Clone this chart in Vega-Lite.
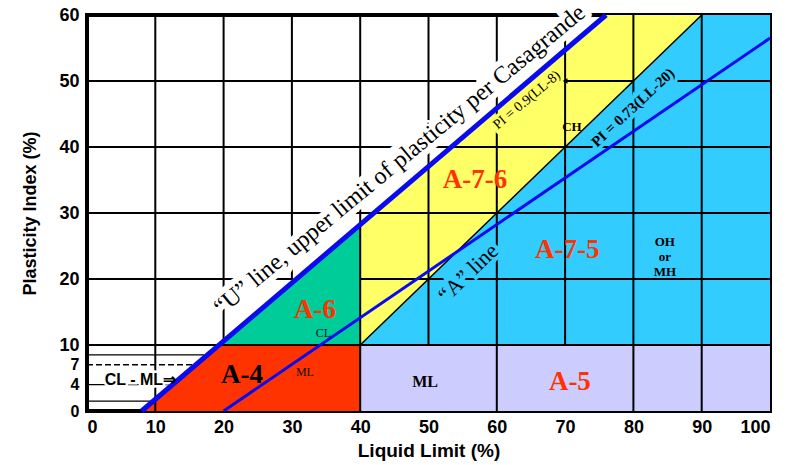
{
  "$schema": "https://vega.github.io/schema/vega-lite/v6.json",
  "width": 683,
  "height": 396,
  "autosize": {"type": "none"},
  "padding": {"left": 87, "top": 15, "right": 24, "bottom": 54},
  "background": "white",
  "config": {
    "view": {"stroke": "black", "strokeWidth": 4},
    "axis": {"grid": false, "domain": false, "ticks": false, "labelFont": "Liberation Sans", "labelFontWeight": "bold", "labelColor": "black", "titleFont": "Liberation Sans", "titleFontWeight": "bold", "titleColor": "black"}
  },
  "datasets": {
    "regions": [
      {"region": "A-4", "LL": 8, "PI": 0, "PI2": 0},
      {"region": "A-4", "LL": 19.3, "PI": 0, "PI2": 10},
      {"region": "A-4", "LL": 40, "PI": 0, "PI2": 10},
      {"region": "A-6", "LL": 19.3, "PI": 10, "PI2": 10},
      {"region": "A-6", "LL": 40, "PI": 10, "PI2": 28.2},
      {"region": "A-7-6", "LL": 40, "PI": 10, "PI2": 28.2},
      {"region": "A-7-6", "LL": 76, "PI": 46, "PI2": 60},
      {"region": "A-7-6", "LL": 90, "PI": 60, "PI2": 60},
      {"region": "A-7-5", "LL": 40, "PI": 10, "PI2": 10},
      {"region": "A-7-5", "LL": 90, "PI": 10, "PI2": 60},
      {"region": "A-7-5", "LL": 100, "PI": 10, "PI2": 60},
      {"region": "A-5", "LL": 40, "PI": 0, "PI2": 10},
      {"region": "A-5", "LL": 100, "PI": 0, "PI2": 10}
    ],
    "grid": [
      {"LL": 10, "LL2": 10, "PI": 0, "PI2": 60},
      {"LL": 20, "LL2": 20, "PI": 10.8, "PI2": 60},
      {"LL": 30, "LL2": 30, "PI": 19.8, "PI2": 60},
      {"LL": 40, "LL2": 40, "PI": 0, "PI2": 60},
      {"LL": 50, "LL2": 50, "PI": 10, "PI2": 60},
      {"LL": 60, "LL2": 60, "PI": 0, "PI2": 60},
      {"LL": 70, "LL2": 70, "PI": 10, "PI2": 60},
      {"LL": 80, "LL2": 80, "PI": 0, "PI2": 60},
      {"LL": 90, "LL2": 90, "PI": 0, "PI2": 60},
      {"LL": 0, "LL2": 100, "PI": 10, "PI2": 10},
      {"LL": 0, "LL2": 30.2, "PI": 20, "PI2": 20},
      {"LL": 40, "LL2": 100, "PI": 20, "PI2": 20},
      {"LL": 0, "LL2": 100, "PI": 30, "PI2": 30},
      {"LL": 0, "LL2": 100, "PI": 40, "PI2": 40},
      {"LL": 0, "LL2": 57, "PI": 50, "PI2": 50},
      {"LL": 70, "LL2": 80, "PI": 50, "PI2": 50},
      {"LL": 86, "LL2": 100, "PI": 50, "PI2": 50}
    ],
    "hatch": [
      {"LL": 0, "LL2": 17.2, "PI": 8.5},
      {"LL": 0, "LL2": 12.4, "PI": 4},
      {"LL": 0, "LL2": 9.7, "PI": 1.5}
    ],
    "hatchDashed": [
      {"LL": 0, "LL2": 15.8, "PI": 7}
    ],
    "boundary": [{"LL": 40, "PI": 10}, {"LL": 90, "PI": 60}],
    "uline": [{"LL": 8, "PI": 0}, {"LL": 76, "PI": 60}],
    "aline": [{"LL": 20, "PI": 0}, {"LL": 100, "PI": 56.5}],
    "arrow": [{"LL": 70, "PI": 50}],
    "redBig": [
      {"LL": 33.4, "PI": 15.3, "t": "A-6"},
      {"LL": 56.8, "PI": 35, "t": "A-7-6"},
      {"LL": 70.3, "PI": 24.4, "t": "A-7-5"},
      {"LL": 70.7, "PI": 4.4, "t": "A-5"}
    ],
    "blackBig": [{"LL": 22.7, "PI": 5.5, "t": "A-4"}],
    "smallReg": [
      {"LL": 31.9, "PI": 5.9, "t": "ML"},
      {"LL": 34.6, "PI": 11.8, "t": "CL"}
    ],
    "smallBold": [
      {"LL": 71, "PI": 43, "t": "CH"},
      {"LL": 84.6, "PI": 25.6, "t": "OH"},
      {"LL": 84.6, "PI": 23.3, "t": "or"},
      {"LL": 84.6, "PI": 21.0, "t": "MH"}
    ],
    "mlBold": [{"LL": 49.5, "PI": 4.4, "t": "ML"}],
    "uText": [{"LL": 45.8, "PI": 38.0, "t": "\u201cU\u201d line, upper limit of plasticity per Casagrande"}],
    "aText": [{"LL": 55.8, "PI": 20.9, "t": "\u201cA\u201d line"}],
    "pi073": [{"LL": 79.9, "PI": 46, "t": "PI = 0.73(LL-20)"}],
    "pi09": [{"LL": 64.4, "PI": 47.1, "t": "PI = 0.9(LL-8)"}],
    "clml": [{"LL": 2.6, "PI": 4.7, "t": "CL - ML\u21d2"}]
  },
  "layer": [
    {
      "data": {"name": "regions"},
      "mark": {"type": "area", "opacity": 1},
      "encoding": {
        "x": {"field": "LL", "type": "quantitative", "scale": {"domain": [0, 100], "nice": false, "zero": false},
              "axis": {"values": [0, 10, 20, 30, 40, 50, 60, 70, 80, 90, 100], "title": "Liquid Limit (%)", "labelFontSize": 18, "titleFontSize": 19, "labelPadding": 7, "titlePadding": 5}},
        "y": {"field": "PI", "type": "quantitative", "stack": null, "scale": {"domain": [0, 60], "nice": false, "zero": false},
              "axis": {"values": [0, 4, 7, 10, 20, 30, 40, 50, 60], "title": "Plasticity Index (%)", "labelFontSize": {"condition": {"test": "datum.value < 10", "value": 16}, "value": 18}, "titleFontSize": 18, "labelPadding": 8, "titlePadding": 19}},
        "y2": {"field": "PI2"},
        "color": {"field": "region", "type": "nominal", "legend": null,
                  "scale": {"domain": ["A-4", "A-6", "A-7-6", "A-7-5", "A-5"], "range": ["#FF3300", "#00CC99", "#FFFF66", "#33CCFF", "#CCCCFF"]}}
      }
    },
    {
      "data": {"name": "grid"},
      "mark": {"type": "rule", "color": "black", "strokeWidth": 2},
      "encoding": {
        "x": {"field": "LL", "type": "quantitative"},
        "x2": {"field": "LL2"},
        "y": {"field": "PI", "type": "quantitative"},
        "y2": {"field": "PI2"}
      }
    },
    {
      "data": {"name": "hatch"},
      "mark": {"type": "rule", "color": "black", "strokeWidth": 1.3},
      "encoding": {
        "x": {"field": "LL", "type": "quantitative"},
        "x2": {"field": "LL2"},
        "y": {"field": "PI", "type": "quantitative"}
      }
    },
    {
      "data": {"name": "hatchDashed"},
      "mark": {"type": "rule", "color": "black", "strokeWidth": 1.5, "strokeDash": [6, 3]},
      "encoding": {
        "x": {"field": "LL", "type": "quantitative"},
        "x2": {"field": "LL2"},
        "y": {"field": "PI", "type": "quantitative"}
      }
    },
    {
      "data": {"name": "boundary"},
      "mark": {"type": "line", "color": "black", "strokeWidth": 1.5},
      "encoding": {"x": {"field": "LL", "type": "quantitative"}, "y": {"field": "PI", "type": "quantitative"}}
    },
    {
      "data": {"name": "aText"},
      "mark": {"type": "text", "font": "Liberation Serif", "fontSize": 22, "fill": "#33CCFF", "stroke": "#33CCFF", "strokeWidth": 8, "align": "center", "baseline": "middle", "angle": 316},
      "encoding": {"x": {"field": "LL", "type": "quantitative"}, "y": {"field": "PI", "type": "quantitative"}, "text": {"field": "t"}}
    },
    {
      "data": {"name": "pi073"},
      "mark": {"type": "text", "font": "Liberation Serif", "fontWeight": "bold", "fontSize": 15, "fill": "#33CCFF", "stroke": "#33CCFF", "strokeWidth": 7, "align": "center", "baseline": "middle", "angle": 317},
      "encoding": {"x": {"field": "LL", "type": "quantitative"}, "y": {"field": "PI", "type": "quantitative"}, "text": {"field": "t"}}
    },
    {
      "data": {"name": "pi09"},
      "mark": {"type": "text", "font": "Liberation Serif", "fontSize": 14, "fill": "#FFFF66", "stroke": "#FFFF66", "strokeWidth": 7, "align": "center", "baseline": "middle", "angle": 320},
      "encoding": {"x": {"field": "LL", "type": "quantitative"}, "y": {"field": "PI", "type": "quantitative"}, "text": {"field": "t"}}
    },
    {
      "data": {"name": "uText"},
      "mark": {"type": "text", "font": "Liberation Serif", "fontSize": 24, "fill": "white", "stroke": "white", "strokeWidth": 12, "align": "center", "baseline": "middle", "angle": 320.5},
      "encoding": {"x": {"field": "LL", "type": "quantitative"}, "y": {"field": "PI", "type": "quantitative"}, "text": {"field": "t"}}
    },
    {
      "data": {"name": "clml"},
      "mark": {"type": "text", "font": "Liberation Sans", "fontWeight": "bold", "fontSize": 16, "fill": "white", "stroke": "white", "strokeWidth": 5, "align": "left", "baseline": "middle"},
      "encoding": {"x": {"field": "LL", "type": "quantitative"}, "y": {"field": "PI", "type": "quantitative"}, "text": {"field": "t"}}
    },
    {
      "data": {"name": "uline"},
      "mark": {"type": "line", "color": "#0A0AF0", "strokeWidth": 5},
      "encoding": {"x": {"field": "LL", "type": "quantitative"}, "y": {"field": "PI", "type": "quantitative"}}
    },
    {
      "data": {"name": "aline"},
      "mark": {"type": "line", "color": "#0A0AF0", "strokeWidth": 3},
      "encoding": {"x": {"field": "LL", "type": "quantitative"}, "y": {"field": "PI", "type": "quantitative"}}
    },
    {
      "data": {"name": "arrow"},
      "mark": {"type": "point", "shape": "triangle-left", "filled": true, "color": "black", "size": 30, "opacity": 1},
      "encoding": {"x": {"field": "LL", "type": "quantitative"}, "y": {"field": "PI", "type": "quantitative"}}
    },
    {
      "data": {"name": "redBig"},
      "mark": {"type": "text", "font": "Liberation Serif", "fontWeight": "bold", "fontSize": 27, "color": "#FF3300", "align": "center", "baseline": "middle"},
      "encoding": {"x": {"field": "LL", "type": "quantitative"}, "y": {"field": "PI", "type": "quantitative"}, "text": {"field": "t"}}
    },
    {
      "data": {"name": "blackBig"},
      "mark": {"type": "text", "font": "Liberation Serif", "fontWeight": "bold", "fontSize": 27, "color": "black", "align": "center", "baseline": "middle"},
      "encoding": {"x": {"field": "LL", "type": "quantitative"}, "y": {"field": "PI", "type": "quantitative"}, "text": {"field": "t"}}
    },
    {
      "data": {"name": "smallReg"},
      "mark": {"type": "text", "font": "Liberation Serif", "fontSize": 12, "color": "#111", "align": "center", "baseline": "middle"},
      "encoding": {"x": {"field": "LL", "type": "quantitative"}, "y": {"field": "PI", "type": "quantitative"}, "text": {"field": "t"}}
    },
    {
      "data": {"name": "smallBold"},
      "mark": {"type": "text", "font": "Liberation Serif", "fontWeight": "bold", "fontSize": 13, "color": "black", "align": "center", "baseline": "middle"},
      "encoding": {"x": {"field": "LL", "type": "quantitative"}, "y": {"field": "PI", "type": "quantitative"}, "text": {"field": "t"}}
    },
    {
      "data": {"name": "mlBold"},
      "mark": {"type": "text", "font": "Liberation Serif", "fontWeight": "bold", "fontSize": 16, "color": "black", "align": "center", "baseline": "middle"},
      "encoding": {"x": {"field": "LL", "type": "quantitative"}, "y": {"field": "PI", "type": "quantitative"}, "text": {"field": "t"}}
    },
    {
      "data": {"name": "uText"},
      "mark": {"type": "text", "font": "Liberation Serif", "fontSize": 24, "color": "black", "align": "center", "baseline": "middle", "angle": 320.5},
      "encoding": {"x": {"field": "LL", "type": "quantitative"}, "y": {"field": "PI", "type": "quantitative"}, "text": {"field": "t"}}
    },
    {
      "data": {"name": "aText"},
      "mark": {"type": "text", "font": "Liberation Serif", "fontSize": 22, "color": "black", "align": "center", "baseline": "middle", "angle": 316},
      "encoding": {"x": {"field": "LL", "type": "quantitative"}, "y": {"field": "PI", "type": "quantitative"}, "text": {"field": "t"}}
    },
    {
      "data": {"name": "pi073"},
      "mark": {"type": "text", "font": "Liberation Serif", "fontWeight": "bold", "fontSize": 15, "color": "black", "align": "center", "baseline": "middle", "angle": 317},
      "encoding": {"x": {"field": "LL", "type": "quantitative"}, "y": {"field": "PI", "type": "quantitative"}, "text": {"field": "t"}}
    },
    {
      "data": {"name": "pi09"},
      "mark": {"type": "text", "font": "Liberation Serif", "fontSize": 14, "color": "black", "align": "center", "baseline": "middle", "angle": 320},
      "encoding": {"x": {"field": "LL", "type": "quantitative"}, "y": {"field": "PI", "type": "quantitative"}, "text": {"field": "t"}}
    },
    {
      "data": {"name": "clml"},
      "mark": {"type": "text", "font": "Liberation Sans", "fontWeight": "bold", "fontSize": 16, "color": "black", "align": "left", "baseline": "middle"},
      "encoding": {"x": {"field": "LL", "type": "quantitative"}, "y": {"field": "PI", "type": "quantitative"}, "text": {"field": "t"}}
    }
  ]
}
